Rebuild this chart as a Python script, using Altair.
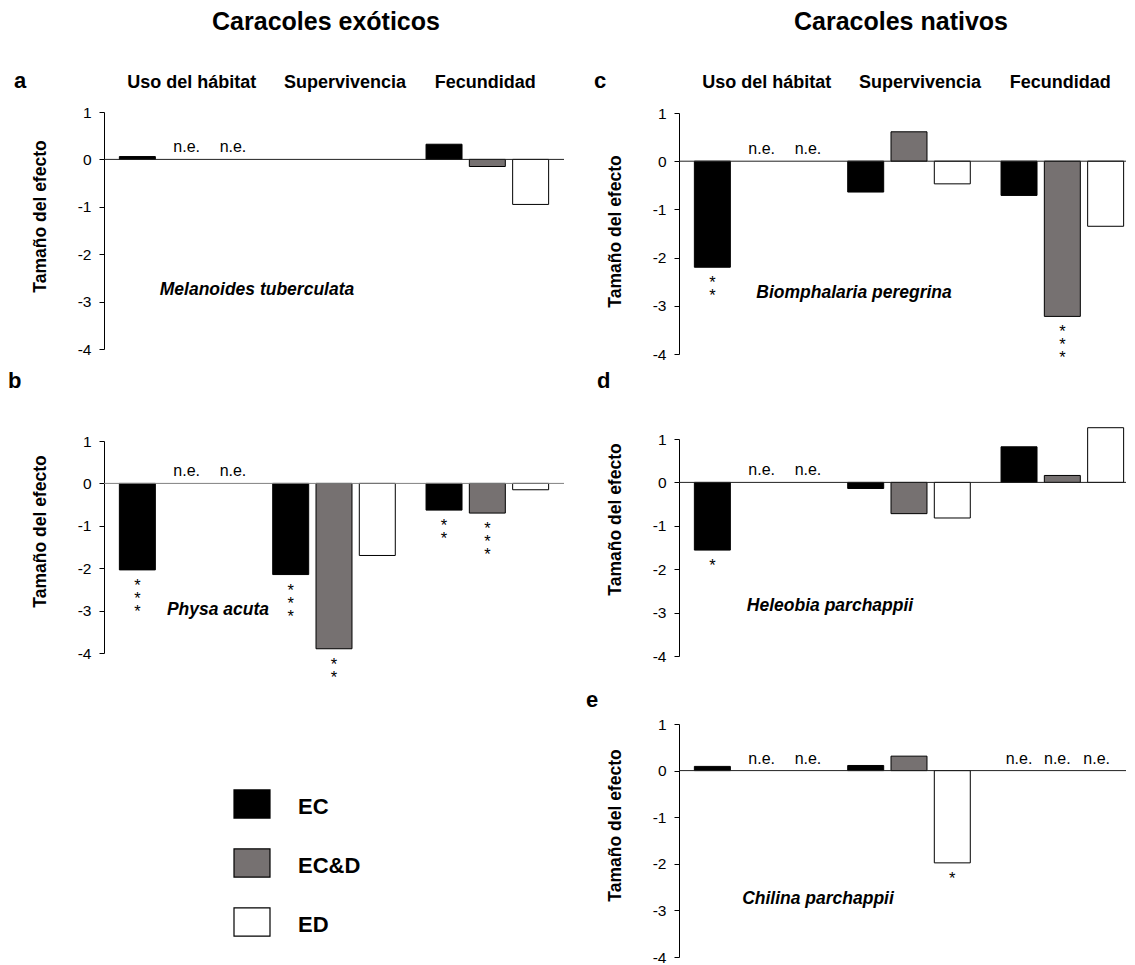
import altair as alt
import pandas as pd

categories = ["Uso del hábitat", "Supervivencia", "Fecundidad"]
series = ["EC", "EC&D", "ED"]
colors = ["#000000", "#767171", "#ffffff"]

# Panel a - Melanoides tuberculata (exótico)
a_ec = [0.06, None, 0.32]
a_ecd = [None, None, -0.15]
a_ed = [None, None, -0.95]
a_sig_ec = ["", "", ""]
a_sig_ecd = ["", "", ""]
a_sig_ed = ["", "", ""]
a_ne = [("EC&D", "Uso del hábitat"), ("ED", "Uso del hábitat")]

# Panel b - Physa acuta (exótico)
b_ec = [-2.04, -2.15, -0.63]
b_ecd = [None, -3.90, -0.70]
b_ed = [None, -1.70, -0.15]
b_sig_ec = ["***", "***", "**"]
b_sig_ecd = ["", "**", "***"]
b_sig_ed = ["", "", ""]
b_ne = [("EC&D", "Uso del hábitat"), ("ED", "Uso del hábitat")]

# Panel c - Biomphalaria peregrina (nativo)
c_ec = [-2.20, -0.64, -0.71]
c_ecd = [None, 0.61, -3.22]
c_ed = [None, -0.47, -1.35]
c_sig_ec = ["**", "", ""]
c_sig_ecd = ["", "", "***"]
c_sig_ed = ["", "", ""]
c_ne = [("EC&D", "Uso del hábitat"), ("ED", "Uso del hábitat")]

# Panel d - Heleobia parchappii (nativo)
d_ec = [-1.56, -0.14, 0.82]
d_ecd = [None, -0.72, 0.16]
d_ed = [None, -0.82, 1.26]
d_sig_ec = ["*", "", ""]
d_sig_ecd = ["", "", ""]
d_sig_ed = ["", "", ""]
d_ne = [("EC&D", "Uso del hábitat"), ("ED", "Uso del hábitat")]

# Panel e - Chilina parchappii (nativo)
e_ec = [0.09, 0.11, None]
e_ecd = [None, 0.31, None]
e_ed = [None, -1.98, None]
e_sig_ec = ["", "", ""]
e_sig_ecd = ["", "", ""]
e_sig_ed = ["", "*", ""]
e_ne = [("EC&D", "Uso del hábitat"), ("ED", "Uso del hábitat"),
        ("EC", "Fecundidad"), ("EC&D", "Fecundidad"), ("ED", "Fecundidad")]

y_ticks = [-4, -3, -2, -1, 0, 1]
FONT = "Liberation Sans"
BAND = 460      # extent of the three category bands
W_LEFT = 460    # left column cell width
W_RIGHT = 447   # right column cell width (keeps page from overflowing)
H = 300
COL_DX = [11, 11, -2]
# horizontal nudge of the "n.e." labels (style only)
NE_DX = [("Uso del hábitat", "EC&D", 6), ("Uso del hábitat", "ED", 9),
         ("Fecundidad", "EC", 0), ("Fecundidad", "EC&D", -5), ("Fecundidad", "ED", -9)]


def make_df(ec, ecd, ed, s_ec, s_ecd, s_ed, ne):
    rows = []
    for ser, vals, sigs in zip(series, [ec, ecd, ed], [s_ec, s_ecd, s_ed]):
        for cat, v, s in zip(categories, vals, sigs):
            rows.append({
                "cat": cat,
                "series": ser,
                "value": v,
                "sig": "\n".join(list(s)) if s else "",
                "ne": "n.e." if (ser, cat) in ne else "",
            })
    return pd.DataFrame(rows)


one = pd.DataFrame({"k": [0]})


def panel(df, species, sp_x, sp_y, letter, letter_x, letter_y,
          y_range, title_y, zero_color, width, header=None, show_cols=False,
          anchor=False):
    xs = alt.Scale(domain=categories, paddingInner=0, paddingOuter=0, range=[0, BAND])
    xo = alt.Scale(domain=series, paddingInner=0.169, paddingOuter=0.355)
    ys = alt.Scale(domain=[-4, 1], range=y_range, nice=False, zero=False)
    X = alt.X("cat:N", scale=xs, axis=None, sort=categories)
    XO = alt.XOffset("series:N", scale=xo, sort=series)
    base = alt.Chart(df)

    bars = base.transform_filter("isValid(datum.value)").mark_bar(
        stroke="#000000", strokeWidth=1
    ).encode(
        x=X, xOffset=XO,
        y=alt.Y("value:Q", scale=ys, axis=alt.Axis(
            values=y_ticks, labelExpr="datum.value", title="Tamaño del efecto",
            titleX=-59, titleY=title_y, titleAngle=270, titleBaseline="alphabetic",
            titleAlign="center", tickSize=5, labelPadding=8, grid=False,
            domainColor="#000000", tickColor="#000000", labelColor="#000000",
            titleColor="#000000", labelFontSize=15.5, titleFontSize=17.5,
            titleFontWeight="bold", labelFont=FONT, titleFont=FONT)),
        fill=alt.Fill("series:N", scale=alt.Scale(domain=series, range=colors), legend=None),
    )

    zero = alt.Chart(one).mark_rule(color=zero_color, strokeWidth=1).encode(y=alt.datum(0))

    layers = [bars, zero]

    for cat, ser, dx in NE_DX:
        ne = base.transform_filter(
            f"datum.ne != '' && datum.cat == '{cat}' && datum.series == '{ser}'"
        ).mark_text(
            fontSize=16, font=FONT, baseline="alphabetic", dy=-7, dx=dx, color="#000000"
        ).encode(x=X, xOffset=XO, y=alt.datum(0), text="ne:N")
        layers.append(ne)

    stars = base.transform_filter("datum.sig != ''").mark_text(
        fontSize=16.5, font=FONT, baseline="top", dy=8, lineBreak="\n", lineHeight=13,
        color="#000000"
    ).encode(x=X, xOffset=XO, y="value:Q", text="sig:N")

    sp = alt.Chart(one).mark_text(
        text=species, fontSize=17.5, font=FONT, fontStyle="italic", fontWeight="bold",
        align="center", baseline="middle", color="#000000"
    ).encode(x=alt.value(sp_x), y=alt.datum(sp_y))

    let = alt.Chart(one).mark_text(
        text=letter, fontSize=22, font=FONT, fontWeight="bold", align="left",
        baseline="alphabetic", color="#000000"
    ).encode(x=alt.value(letter_x), y=alt.value(letter_y))

    layers += [stars, sp, let]

    if show_cols:
        for cat, dx in zip(categories, COL_DX):
            col = alt.Chart(pd.DataFrame({"cat": [cat]})).mark_text(
                fontSize=18, font=FONT, fontWeight="bold", baseline="alphabetic", dx=dx,
                color="#000000"
            ).encode(x=X, y=alt.value(-12), text="cat:N")
            layers.append(col)

    if header:
        hd = alt.Chart(one).mark_text(
            text=header, fontSize=25, font=FONT, fontWeight="bold", align="center",
            baseline="alphabetic", color="#000000"
        ).encode(x=alt.value(222), y=alt.value(-70))
        layers.append(hd)

    if anchor:
        anc = alt.Chart(one).mark_text(
            text=" ", fontSize=10, font=FONT, baseline="top", align="left"
        ).encode(x=alt.value(0), y=alt.value(-92))
        layers.append(anc)

    return alt.layer(*layers).properties(width=width, height=H)


pa = panel(make_df(a_ec, a_ecd, a_ed, a_sig_ec, a_sig_ecd, a_sig_ed, a_ne),
           "Melanoides tuberculata", 153, -2.76, "a", -90, -12,
           [249, 12], 116, "#222222", W_LEFT, header="Caracoles exóticos",
           show_cols=True, anchor=True)
pc = panel(make_df(c_ec, c_ecd, c_ed, c_sig_ec, c_sig_ecd, c_sig_ed, c_ne),
           "Biomphalaria peregrina", 175, -2.74, "c", -85, -12,
           [254, 13], 131, "#222222", W_RIGHT, header="Caracoles nativos",
           show_cols=True)
pb = panel(make_df(b_ec, b_ecd, b_ed, b_sig_ec, b_sig_ecd, b_sig_ed, b_ne),
           "Physa acuta", 114, -2.99, "b", -96, -12,
           [253, 41], 131, "#808080", W_LEFT)
pd_ = panel(make_df(d_ec, d_ecd, d_ed, d_sig_ec, d_sig_ecd, d_sig_ed, d_ne),
            "Heleobia parchappii", 151, -2.85, "d", -82, -12,
            [256, 39], 119, "#222222", W_RIGHT)
pe = panel(make_df(e_ec, e_ecd, e_ed, e_sig_ec, e_sig_ecd, e_sig_ed, e_ne),
           "Chilina parchappii", 139, -2.76, "e", -93, 7,
           [257, 24], 125, "#222222", W_RIGHT)

leg_df = pd.DataFrame({"series": series})
leg_y = alt.Y("series:N", scale=alt.Scale(domain=series, range=[104, 222], padding=0), axis=None)
leg_sq = alt.Chart(leg_df).mark_point(
    shape="M-1,-0.78H1V0.78H-1Z", size=1296, filled=True, stroke="#000000",
    strokeWidth=1.2, opacity=1
).encode(
    x=alt.value(148), y=leg_y,
    fill=alt.Fill("series:N", scale=alt.Scale(domain=series, range=colors), legend=None),
)
leg_tx = alt.Chart(leg_df).mark_text(
    align="left", baseline="middle", dy=3, fontSize=22, font=FONT, fontWeight="bold",
    color="#000000"
).encode(x=alt.value(194), y=leg_y, text="series:N")
legend = alt.layer(leg_sq, leg_tx).properties(width=W_LEFT, height=H)

chart = alt.concat(
    pa, pc, pb, pd_, legend, pe,
    columns=2, bounds="flush", spacing={"row": 0, "column": 115}, align="each"
).properties(
    padding={"left": 0, "top": 0, "right": 0, "bottom": 0}
).configure(font=FONT).configure_view(strokeWidth=0, stroke="transparent")

chart.save("out.html", embed_options={"renderer": "svg", "actions": False})
